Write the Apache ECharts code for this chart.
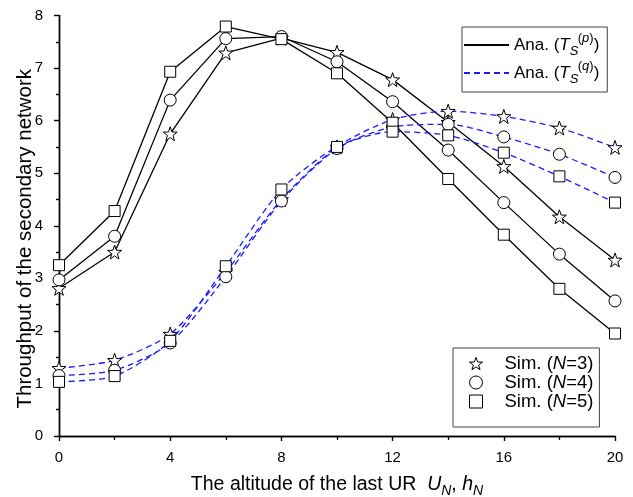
<!DOCTYPE html>
<html>
<head>
<meta charset="utf-8">
<script src="https://cdn.jsdelivr.net/npm/echarts@6/dist/echarts.min.js"></script>
<style>
html,body{margin:0;padding:0;background:#fff;}
#chart{width:633px;height:497px;}
</style>
</head>
<body>
<div id="chart"></div>
<script>
// ---- data ----
const xs = [0, 2, 4, 6, 8, 10, 12, 14, 16, 18, 20];
// Analytical T_S^(p) (black solid)
const anaP_N3 = [2.81, 3.50, 5.75, 7.29, 7.57, 7.30, 6.78, 5.97, 5.13, 4.17, 3.35];
const anaP_N4 = [2.97, 3.80, 6.39, 7.56, 7.60, 7.12, 6.36, 5.44, 4.44, 3.46, 2.57];
const anaP_N5 = [3.25, 4.28, 6.93, 7.79, 7.55, 6.90, 5.96, 4.89, 3.83, 2.80, 1.95];
// Analytical T_S^(q) (blue dashed)
const anaQ_N3 = [1.29, 1.44, 1.94, 3.12, 4.50, 5.50, 6.02, 6.18, 6.08, 5.86, 5.49];
const anaQ_N4 = [1.15, 1.25, 1.77, 3.03, 4.47, 5.47, 5.88, 5.93, 5.69, 5.36, 4.92];
const anaQ_N5 = [1.03, 1.14, 1.81, 3.23, 4.69, 5.50, 5.79, 5.72, 5.39, 4.94, 4.44];
// Simulation markers (same points)
const sim_N3 = [anaP_N3, anaQ_N3];
const sim_N4 = [anaP_N4, anaQ_N4];
const sim_N5 = [anaP_N5, anaQ_N5];

const FONT = '"Liberation Sans", Arial, sans-serif';
const STAR = 'path://M7,0 L8.65,4.73 L13.66,4.84 L9.66,7.87 L11.11,12.66 L7,9.8 L2.89,12.66 L4.34,7.87 L0.34,4.84 L5.35,4.73 Z';
const SQUARE = 'path://M0,0 L11,0 L11,11 L0,11 Z';
const CIRCLE = 'path://M12,6 A6,6 0 1 1 0,6 A6,6 0 1 1 12,6 Z';

function pts(ys) { return xs.map((x, i) => [x, ys[i]]); }

function lineS(name, ys, color, dashed) {
  return {
    type: 'line', name: name, data: pts(ys), symbol: 'none', z: 2,
    smooth: dashed ? 0.25 : false,
    lineStyle: { color: color, width: 1.3, type: dashed ? [6, 4] : 'solid' },
    itemStyle: { color: color },
    emphasis: { disabled: true }, silent: true, animation: false
  };
}
function simS(name, arrs, symbol, size) {
  let d = [];
  arrs.forEach(a => { d = d.concat(pts(a)); });
  return {
    type: 'scatter', name: name, data: d, symbol: symbol, symbolSize: size, z: 3,
    itemStyle: { color: '#ffffff', borderColor: '#000000', borderWidth: 1, opacity: 1 },
    emphasis: { disabled: true }, silent: true, animation: false
  };
}

const legendNames = {
  anaP: '{n|Ana. (}{it|T}{sb|S}{sp|(}{spi|p}{sp|)}{n|)}',
  anaQ: '{n|Ana. (}{it|T}{sb|S}{sp|(}{spi|q}{sp|)}{n|)}',
  sim3: '{m0|Sim. (}{mi|N}{m|=3)}',
  sim4: '{m0|Sim. (}{mi|N}{m|=4)}',
  sim5: '{m0|Sim. (}{mi|N}{m|=5)}'
};

const chart = echarts.init(document.getElementById('chart'), null, { renderer: 'canvas' });
const axisCommon = {
  axisLine: { show: true, lineStyle: { color: '#000', width: 1.4 } },
  splitLine: { show: false }
};

chart.setOption({
  animation: false,
  backgroundColor: '#fff',
  grid: { left: 59, right: 18, top: 15.5, bottom: 61, containLabel: false, outerBoundsMode: 'none' },
  xAxis: [
    Object.assign({
      type: 'value', min: 0, max: 20, interval: 4, position: 'bottom',
      name: '{n|The altitude of the last UR  }{i|U}{s|N}{n|, }{i|h}{s|N}',
      nameLocation: 'middle', nameGap: 36, nameMoveOverlap: false,
      nameTextStyle: {
        rich: {
          n: { fontSize: 19.5, fontFamily: FONT, color: '#000' },
          i: { fontSize: 19.5, fontFamily: FONT, fontStyle: 'italic', color: '#000' },
          s: { fontSize: 14, fontFamily: FONT, fontStyle: 'italic', color: '#000', verticalAlign: 'bottom', lineHeight: 26, padding: [6, 0, 0, 0] }
        }
      },
      axisTick: { show: true, inside: false, length: 5, lineStyle: { color: '#000', width: 1.2 } },
      minorTick: { show: true, splitNumber: 2, length: 3, lineStyle: { color: '#000', width: 1.2 } },
      axisLabel: { fontSize: 15, fontFamily: FONT, color: '#000', margin: 14 }
    }, axisCommon),
    Object.assign({
      type: 'value', min: 0, max: 20, interval: 4, position: 'top',
      axisTick: { show: true, inside: true, length: 5, lineStyle: { color: '#000', width: 1.2 } },
      minorTick: { show: true, splitNumber: 2, length: 4, lineStyle: { color: '#000', width: 1.2 } },
      axisLabel: { show: false }
    }, axisCommon)
  ],
  yAxis: [
    Object.assign({
      type: 'value', min: 0, max: 8, interval: 1, position: 'left',
      name: '{t|Throughput of the secondary network}{g| }',
      nameLocation: 'middle', nameGap: 23, nameMoveOverlap: false,
      nameTextStyle: {
        rich: {
          t: { fontSize: 20.5, fontFamily: FONT, color: '#000' },
          g: { fontSize: 20.5, fontFamily: FONT, color: '#000', width: 26 }
        }
      },
      axisTick: { show: true, inside: false, length: 5, lineStyle: { color: '#000', width: 1.2 } },
      minorTick: { show: true, splitNumber: 2, length: 3, lineStyle: { color: '#000', width: 1.2 } },
      axisLabel: { fontSize: 15, fontFamily: FONT, color: '#000', margin: 16 }
    }, axisCommon),
    Object.assign({
      type: 'value', min: 0, max: 8, interval: 1, position: 'right',
      axisTick: { show: true, inside: true, length: 5, lineStyle: { color: '#000', width: 1.2 } },
      minorTick: { show: true, splitNumber: 2, length: 3, lineStyle: { color: '#000', width: 1.2 } },
      axisLabel: { show: false }
    }, axisCommon)
  ],
  legend: [
    {
      data: ['anaP', 'anaQ'], orient: 'vertical', left: 462, top: 27,
      itemWidth: 45, itemHeight: 14, itemGap: 2,
      padding: [5, 8, 6, 1],
      borderColor: '#444', borderWidth: 1, backgroundColor: '#fff',
      selectedMode: false,
      itemStyle: { opacity: 0 },
      formatter: function (n) { return legendNames[n]; },
      textStyle: {
        color: '#000', fontFamily: FONT, fontSize: 17,
        rich: {
          n: { fontSize: 17, fontFamily: FONT, color: '#000', lineHeight: 26 },
          it: { fontSize: 17, fontFamily: FONT, fontStyle: 'italic', color: '#000', lineHeight: 26 },
          sb: { fontSize: 13, fontFamily: FONT, fontStyle: 'italic', color: '#000', verticalAlign: 'bottom', lineHeight: 13, width: 8 },
          sp: { fontSize: 13, fontFamily: FONT, color: '#000', verticalAlign: 'top', lineHeight: 13 },
          spi: { fontSize: 13, fontFamily: FONT, fontStyle: 'italic', color: '#000', verticalAlign: 'top', lineHeight: 13 }
        }
      }
    },
    {
      data: [
        { name: 'sim3', icon: STAR },
        { name: 'sim4', icon: CIRCLE },
        { name: 'sim5', icon: SQUARE }
      ],
      orient: 'vertical', left: 453, top: 348,
      itemWidth: 13, itemHeight: 13, itemGap: 0,
      padding: [6, 6, 16, 16],
      borderColor: '#444', borderWidth: 1, backgroundColor: '#fff',
      selectedMode: false,
      itemStyle: { color: '#fff', borderColor: '#000', borderWidth: 1 },
      formatter: function (n) { return legendNames[n]; },
      textStyle: {
        color: '#000', fontFamily: FONT, fontSize: 18.5,
        rich: {
          m0: { fontSize: 18.5, fontFamily: FONT, color: '#000', lineHeight: 19, padding: [0, 0, 0, 17] },
          m: { fontSize: 18.5, fontFamily: FONT, color: '#000', lineHeight: 19 },
          mi: { fontSize: 18.5, fontFamily: FONT, fontStyle: 'italic', color: '#000', lineHeight: 19 }
        }
      }
    }
  ],
  series: [
    lineS('anaP', anaP_N3, '#000000', false),
    lineS('anaP', anaP_N4, '#000000', false),
    lineS('anaP', anaP_N5, '#000000', false),
    lineS('anaQ', anaQ_N3, '#1a1aff', true),
    lineS('anaQ', anaQ_N4, '#1a1aff', true),
    lineS('anaQ', anaQ_N5, '#1a1aff', true),
    simS('sim3', sim_N3, STAR, 14),
    simS('sim4', sim_N4, 'circle', 12),
    simS('sim5', sim_N5, 'rect', 11)
  ]
});
</script>
</body>
</html>
